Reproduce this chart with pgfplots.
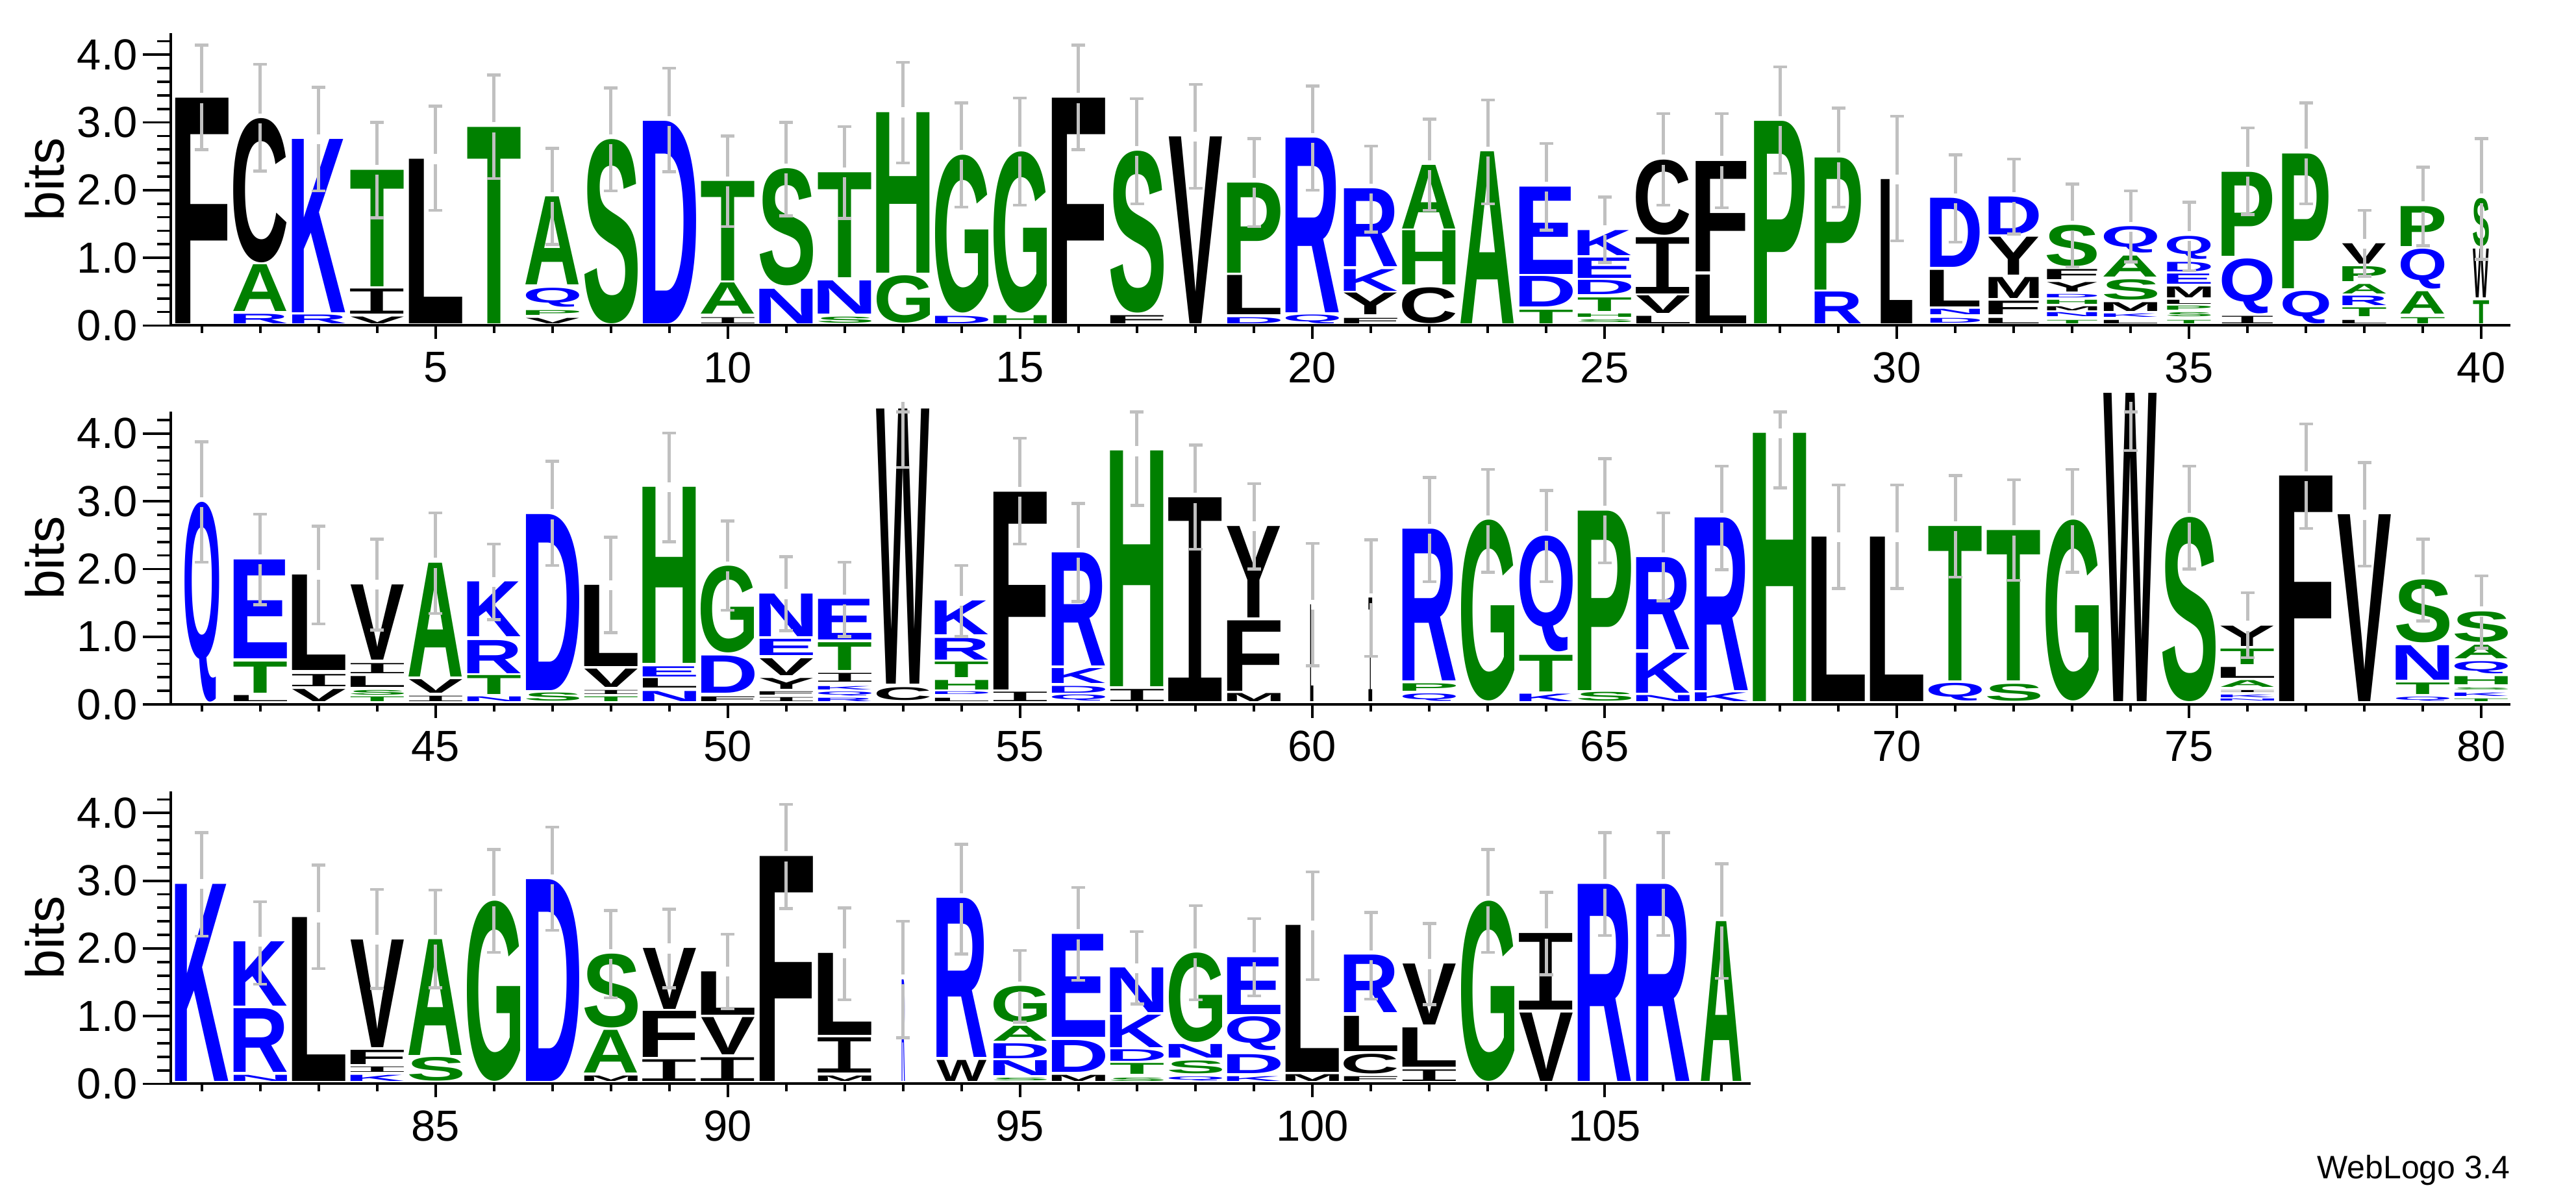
\documentclass[border=0pt]{standalone}
\usepackage{fontspec}
\usepackage{graphicx}
\usepackage{pgfplots}
\usepackage{pgfplotstable}
\pgfplotsset{compat=1.18}
\setmainfont{Liberation Sans}
\newfontfamily\lgf{Liberation Sans}
\newfontfamily\lgm{Liberation Mono}
\XeTeXuseglyphmetrics=1
\definecolor{lblue}{HTML}{0000FF}
\definecolor{lgreen}{HTML}{008000}
\definecolor{lgrey}{HTML}{C0C0C0}
\newcommand\tightglyph[1]{\kern-\XeTeXglyphbounds1 \XeTeXcharglyph`#1\relax #1\kern-\XeTeXglyphbounds3 \XeTeXcharglyph`#1\relax}
\newcommand\defglyph[3]{\expandafter\def\csname glyph#1\endcsname{{\color{#2}#3\tightglyph{#1}}}}
\defglyph{F}{black}{\lgf\bfseries}\defglyph{L}{black}{\lgf\bfseries}\defglyph{V}{black}{\lgf\bfseries}\defglyph{M}{black}{\lgf\bfseries}
\defglyph{Y}{black}{\lgf\bfseries}\defglyph{W}{black}{\lgf\bfseries}\defglyph{C}{black}{\lgf\bfseries}\defglyph{I}{black}{\lgm}
\defglyph{K}{lblue}{\lgf\bfseries}\defglyph{R}{lblue}{\lgf\bfseries}\defglyph{D}{lblue}{\lgf\bfseries}\defglyph{E}{lblue}{\lgf\bfseries}
\defglyph{N}{lblue}{\lgf\bfseries}\defglyph{Q}{lblue}{\lgf\bfseries}
\defglyph{A}{lgreen}{\lgf\bfseries}\defglyph{G}{lgreen}{\lgf\bfseries}\defglyph{S}{lgreen}{\lgf\bfseries}\defglyph{T}{lgreen}{\lgf\bfseries}
\defglyph{P}{lgreen}{\lgf\bfseries}\defglyph{H}{lgreen}{\lgf\bfseries}

% letters: position, bottom (bits), top (bits), relative width, letter
\pgfplotstableread{
p b t w l
1 .03 3.36 1 F
2 .03 .17 1 R
2 .21 .90 1 A
2 .93 3.06 1 C
3 .03 .16 1 R
3 .19 2.75 1 K
4 .03 .13 1 V
4 .17 .54 1 I
4 .58 2.30 1 T
5 .03 2.46 1 L
6 .03 2.93 1 T
7 .03 .11 1 V
7 .15 .22 1 P
7 .27 .55 1 Q
7 .60 1.90 1 A
8 .03 2.75 1 S
9 .03 3.02 1 D
10 .03 .12 1 I
10 .17 .63 1 A
10 .66 2.13 1 T
11 .03 .54 1 N
11 .59 2.32 1 S
12 .04 .13 1 S
12 .17 .66 1 N
12 .71 2.26 1 T
13 .04 .74 1 G
13 .78 3.15 1 H
14 .03 .14 1 D
14 .19 2.52 1 G
15 .03 .15 1 H
15 .19 2.57 1 G
16 .03 3.36 1 F
17 .03 .15 1 F
17 .19 2.58 1 S
18 .03 2.79 1 V
19 .03 .12 1 D
19 .16 .74 1 L
19 .78 2.11 1 P
20 .03 .16 1 Q
20 .19 2.77 1 R
21 .03 .11 1 F
21 .16 .48 1 Y
21 .51 .83 1 K
21 .87 2.02 1 R
22 .03 .56 1 C
22 .60 1.40 1 H
22 1.43 2.37 1 A
23 .03 2.57 1 A
24 .03 .23 1 T
24 .28 .73 1 D
24 .76 2.05 1 E
25 .04 .08 1 S
25 .12 .17 1 H
25 .21 .41 1 T
25 .46 .67 1 D
25 .70 1.00 1 E
25 1.04 1.41 1 K
26 .03 .14 1 L
26 .18 .44 1 V
26 .47 1.30 1 I
26 1.34 2.45 1 C
27 .03 .75 .95 L
27 .80 2.43 .95 F
28 .03 3.02 .95 P
29 .03 .50 .87 R
29 .53 2.48 .87 P
30 .03 2.16 .59 L
31 .04 .11 .93 D
31 .16 .24 .93 N
31 .28 .82 .93 L
31 .86 1.88 .93 D
32 .03 .11 .94 L
32 .16 .36 .94 F
32 .40 .71 .94 M
32 .75 1.31 .94 Y
32 1.34 1.90 .94 D
33 .03 .08 .94 T
33 .13 .19 .94 N
33 .22 .28 .94 M
33 .32 .38 .94 H
33 .41 .46 .94 D
33 .50 .64 .94 Y
33 .68 .83 .94 F
33 .87 1.48 .94 S
34 .03 .08 1 L
34 .12 .17 1 K
34 .21 .34 1 M
34 .38 .68 1 S
34 .72 1.03 1 A
34 1.07 1.46 1 Q
35 .03 .08 .82 T
35 .13 .19 .82 S
35 .23 .29 .82 P
35 .32 .38 .82 L
35 .41 .57 .82 M
35 .61 .76 .82 E
35 .80 .94 .82 D
35 .98 1.32 .82 Q
36 .03 .14 .95 I
36 .18 .99 .95 Q
36 1.03 2.27 .95 P
37 .03 .51 .87 Q
37 .55 2.54 .87 P
38 .03 .08 .82 L
38 .13 .26 .82 T
38 .30 .44 .82 R
38 .47 .61 .82 A
38 .65 .87 .82 P
38 .91 1.21 .82 V
39 .03 .12 .82 T
39 .17 .50 .82 A
39 .54 1.13 .82 Q
39 1.17 1.76 .82 P
40 .03 .37 .30 T
40 .41 1.13 .30 W
40 1.17 1.88 .30 S
}\lettersA
\pgfplotstableread{
p b t w l
41 .04 2.99 .65 Q
42 .04 .13 1 L
42 .17 .63 1 T
42 .68 2.14 1 E
43 .04 .22 1 V
43 .26 .44 1 I
43 .50 1.91 1 L
44 .04 .11 1 T
44 .14 .21 1 S
44 .25 .41 1 L
44 .46 .61 1 I
44 .66 1.77 1 V
45 .04 .12 1 I
45 .17 .37 1 V
45 .41 2.09 1 A
46 .04 .11 1 N
46 .15 .43 1 T
46 .46 .95 1 R
46 1.00 1.81 1 K
47 .05 .17 1 S
47 .21 2.81 1 D
48 .04 .11 1 T
48 .15 .21 1 I
48 .25 .52 1 V
48 .56 1.76 1 L
49 .04 .19 1 N
49 .24 .38 1 L
49 .41 .56 1 E
49 .61 3.21 1 H
50 .04 .11 1 F
50 .17 .72 1 D
50 .76 2.04 1 G
51 .04 .10 1 I
51 .14 .19 1 F
51 .23 .39 1 Y
51 .43 .68 1 V
51 .72 .96 1 E
51 1.00 1.63 1 N
52 .04 .09 1 R
52 .13 .19 1 Q
52 .22 .27 1 K
52 .33 .46 1 I
52 .50 .91 1 T
52 .95 1.55 1 E
53 .06 .25 1 C
53 .30 4.36 1 W
54 .04 .09 1 L
54 .14 .18 1 D
54 .22 .36 1 H
54 .40 .63 1 T
54 .66 .98 1 R
54 1.03 1.53 1 K
55 .04 .18 1 I
55 .22 3.14 1 F
56 .05 .14 1 Q
56 .17 .27 1 D
56 .31 .53 1 K
56 .57 2.24 1 R
57 .04 .22 1 I
57 .26 3.74 1 H
58 .04 3.05 1 I
59 .04 .16 1 M
59 .20 1.24 1 F
59 1.28 2.63 1 Y
60 .04 1.47 .06 L
61 .04 1.57 .07 I
62 .05 .16 1 Q
62 .20 .31 1 P
62 .35 2.59 1 R
63 .05 2.72 1 G
64 .04 .15 1 K
64 .19 .73 1 T
64 .78 2.49 1 Q
65 .05 .18 1 S
65 .21 2.86 1 P
66 .04 .13 1 N
66 .17 .76 1 K
66 .81 2.17 1 R
67 .04 .17 1 K
67 .21 2.76 1 R
68 .04 4.00 1 H
69 .04 2.47 1 L
70 .04 2.47 1 L
71 .05 .31 1 Q
71 .35 2.63 1 T
72 .05 .30 1 S
72 .35 2.57 1 T
73 .05 2.72 1 G
74 .04 4.59 1 W
75 .04 2.76 1 S
76 .04 .07 1 N
76 .10 .14 1 K
76 .17 .20 1 I
76 .25 .35 1 A
76 .39 .55 1 L
76 .59 .82 1 T
76 .86 1.16 1 Y
77 .04 3.37 1 F
78 .04 2.80 1 V
79 .05 .11 1 Q
79 .15 .32 1 T
79 .36 .87 1 N
79 .91 1.84 1 S
80 .04 .08 1 T
80 .12 .17 1 K
80 .21 .24 1 S
80 .29 .41 1 H
80 .45 .63 1 Q
80 .68 .88 1 A
80 .92 1.37 1 S
}\lettersB
\pgfplotstableread{
p b t w l
81 .04 2.95 1 K
82 .04 .13 1 N
82 .17 1.11 1 R
82 1.15 2.10 1 K
83 .04 2.46 1 L
84 .04 .13 1 K
84 .17 .25 1 I
84 .29 .50 1 F
84 .54 2.13 1 V
85 .04 .39 1 S
85 .42 2.13 1 A
86 .04 2.70 1 G
87 .04 3.02 1 D
88 .04 .12 1 M
88 .16 .79 1 A
88 .83 1.92 1 S
89 .04 .36 1 I
89 .39 1.07 1 F
89 1.10 2.00 1 V
90 .04 .39 1 I
90 .43 .98 1 V
90 1.02 1.66 1 L
91 .04 3.36 1 F
92 .04 .12 1 M
92 .16 .68 1 I
92 .72 1.93 1 L
93 .04 1.54 .06 R
94 .04 .35 .94 W
94 .39 2.74 .94 R
95 .04 .08 1 S
95 .12 .34 1 N
95 .37 .59 1 D
95 .63 .85 1 A
95 .90 1.44 1 G
96 .04 .13 1 M
96 .17 .64 1 D
96 .69 2.21 1 E
97 .04 .09 1 S
97 .14 .30 1 T
97 .34 .51 1 D
97 .54 1.02 1 K
97 1.05 1.71 1 N
98 .04 .10 1 Q
98 .15 .34 1 S
98 .38 .58 1 N
98 .61 1.93 1 G
99 .04 .11 1 K
99 .15 .43 1 D
99 .49 .99 1 Q
99 1.03 1.87 1 E
100 .04 .14 1 M
100 .17 2.34 1 L
101 .04 .11 1 F
101 .15 .44 1 C
101 .48 1.00 1 L
101 1.05 1.90 1 R
102 .04 .21 1 I
102 .25 .83 1 L
102 .87 1.77 1 V
103 .04 2.70 1 G
104 .04 1.05 1 V
104 1.09 2.22 1 I
105 .04 2.95 1 R
106 .04 2.95 1 R
107 .04 2.40 .76 A
}\lettersC

% error bars: position, upper cap, lower cap, break in the bar
\pgfplotstableread{
p hi lo mid
1 4.14 2.60 3.36
2 3.86 2.28 3.06
3 3.52 1.99 2.75
4 3.00 1.59 2.30
5 3.24 1.70 2.46
6 3.70 2.17 2.93
7 2.62 1.20 1.90
8 3.51 1.99 2.75
9 3.80 2.27 3.02
10 2.80 1.46 2.13
11 3.00 1.62 2.32
12 2.94 1.58 2.26
13 3.89 2.40 3.15
14 3.29 1.75 2.52
15 3.36 1.78 2.57
16 4.14 2.60 3.36
17 3.35 1.80 2.58
18 3.56 2.03 2.79
19 2.76 1.46 2.11
20 3.54 2.00 2.77
21 2.65 1.38 2.02
22 3.05 1.70 2.37
23 3.33 1.80 2.57
24 2.69 1.41 2.05
25 1.90 .93 1.41
26 3.13 1.78 2.45
27 3.13 1.74 2.43
28 3.82 2.25 3.02
29 3.21 1.75 2.48
30 3.09 1.25 2.16
31 2.52 1.23 1.88
32 2.46 1.35 1.90
33 2.09 .87 1.48
34 1.99 .94 1.46
35 1.82 .81 1.32
36 2.92 1.64 2.27
37 3.29 1.80 2.54
38 1.70 .73 1.21
39 2.34 1.18 1.76
40 2.76 .98 1.88
}\errA
\pgfplotstableread{
p hi lo mid
41 3.88 2.10 2.99
42 2.81 1.47 2.14
43 2.63 1.19 1.91
44 2.44 1.10 1.77
45 2.83 1.34 2.09
46 2.37 1.25 1.81
47 3.59 2.05 2.81
48 2.47 1.06 1.76
49 4.01 2.40 3.21
50 2.71 1.39 2.04
51 2.18 1.09 1.63
52 2.10 1.00 1.55
53 4.32 3.50 4.393
54 2.05 1.00 1.53
55 3.93 2.37 3.14
56 2.97 1.52 2.24
57 4.32 2.94 3.74
58 3.83 2.29 3.05
59 3.26 2.00 2.63
60 2.38 .57 1.47
61 2.43 .71 1.57
62 3.35 1.81 2.59
63 3.47 1.95 2.72
64 3.16 1.81 2.49
65 3.63 2.09 2.86
66 2.83 1.53 2.17
67 3.52 1.99 2.76
68 4.32 3.20 4.00
69 3.24 1.71 2.47
70 3.24 1.71 2.47
71 3.38 1.88 2.63
72 3.32 1.83 2.57
73 3.47 1.95 2.72
74 4.32 3.75 4.393
75 3.52 2.00 2.76
76 1.65 .69 1.16
77 4.14 2.60 3.37
78 3.57 2.04 2.80
79 2.44 1.23 1.84
80 1.90 .83 1.37
}\errB
\pgfplotstableread{
p hi lo mid
81 3.71 2.18 2.95
82 2.69 1.47 2.10
83 3.23 1.70 2.46
84 2.87 1.41 2.13
85 2.86 1.42 2.13
86 3.46 1.94 2.70
87 3.79 2.27 3.02
88 2.56 1.27 1.92
89 2.58 1.42 2.00
90 2.21 1.11 1.66
91 4.13 2.59 3.36
92 2.60 1.24 1.93
93 2.40 .68 1.54
94 3.54 1.92 2.74
95 1.97 .91 1.44
96 2.90 1.53 2.21
97 2.25 1.18 1.71
98 2.63 1.24 1.93
99 2.44 1.30 1.87
100 3.13 1.54 2.34
101 2.53 1.25 1.90
102 2.37 1.17 1.77
103 3.46 1.94 2.70
104 2.83 1.61 2.22
105 3.71 2.19 2.95
106 3.71 2.19 2.95
107 3.25 1.56 2.40
}\errC

\pgfplotsset{
  logobase/.style={
    scale only axis, clip=false, ymin=0, ymax=4.32, height=90.1pt,
    axis line style={-, line width=0.8pt},
    tick style={black, line width=0.75pt},
    minor tick style={black, line width=0.75pt},
    tick align=outside,
    anchor=south west,
    /pgf/number format/assume math mode=true,
    tick label style={font=\fontsize{13.4}{15}\selectfont},
  },
  errstyle/.style={
    draw=none, mark=none, forget plot,
    error bars/y explicit,
    error bars/error bar style={draw=lgrey, line width=1pt},
    error bars/error mark options={draw=lgrey, line width=0.9pt, mark size=2.1pt, rotate=90},
  },
}
% #1 letters, #2 errors, #3 xmin, #4 xmax, #5 width, #6 y offset, #7 major x ticks, #8 minor x ticks, #9 bits label x
\newcommand\logorow[9]{%
  \begin{axis}[logobase, at={(52.6pt,#6)}, width=#5, xmin=#3, xmax=#4,
    axis x line=none, axis y line*=left,
    xtick=\empty,
    ytick={0,1,2,3,4}, yticklabels={0.0,1.0,2.0,3.0,4.0},
    minor ytick={0.2,0.4,0.6,0.8,1.2,1.4,1.6,1.8,2.2,2.4,2.6,2.8,3.2,3.4,3.6,3.8,4.2},
    major tick length=8.6pt, minor tick length=4.2pt,
    y tick label style={inner sep=1.4pt},
    ylabel={bits},
    every axis y label/.style={at={(axis description cs:#9,0.5)},rotate=90,anchor=center,font=\fontsize{16.5}{18}\selectfont},
  ]
  \addplot[only marks, mark=none, point meta=explicit symbolic,
    visualization depends on={(\thisrow{t}-\thisrow{b})\as\hh},
    visualization depends on={\thisrow{w}\as\ww},
    every node near coord/.style={inner sep=0pt, outer sep=0pt, anchor=south},
    nodes near coords={\pgfmathsetlengthmacro\lw{\ww*16.4pt}\pgfmathsetlengthmacro\lh{\hh*20.86pt}\resizebox*{\lw}{\lh}{\csname glyph\pgfplotspointmeta\endcsname}},
  ] table[x=p, y=b, meta=l] {#1};
  \end{axis}
  \begin{axis}[logobase, at={(52.6pt,#6)}, width=#5, xmin=#3, xmax=#4,
    axis y line=none, axis x line*=bottom,
    ytick=\empty, xtick={#7}, minor xtick={#8},
    major tick length=4.2pt, minor tick length=2.3pt,
    x tick label style={inner sep=3.8pt},
  ]
  \addplot[errstyle, error bars/y dir=plus] table[x=p, y expr=\thisrow{mid}+0.073, y error plus expr=\thisrow{hi}-\thisrow{mid}-0.073] {#2};
  \addplot[errstyle, error bars/y dir=minus] table[x=p, y expr=\thisrow{mid}-0.073, y error minus expr=\thisrow{mid}-0.073-\thisrow{lo}] {#2};
  \end{axis}%
}

\begin{document}
\begin{tikzpicture}
\path[use as bounding box] (0,0) rectangle (793.4pt,366.6pt);
\logorow{\lettersA}{\errA}{0.467}{40.5}{720.6pt}{266.3pt}{5,10,15,20,25,30,35,40}{1,...,40}{-0.0538}
\logorow{\lettersB}{\errB}{40.467}{80.5}{720.6pt}{149.6pt}{45,50,55,60,65,70,75,80}{41,...,80}{-0.0538}
\logorow{\lettersC}{\errC}{80.467}{107.5}{486.6pt}{32.7pt}{85,90,95,100,105}{81,...,107}{-0.0797}
\node[anchor=base east, inner sep=0pt, font=\fontsize{10}{11}\selectfont] at (773.2pt,3.4pt) {WebLogo 3.4};
\end{tikzpicture}
\end{document}
